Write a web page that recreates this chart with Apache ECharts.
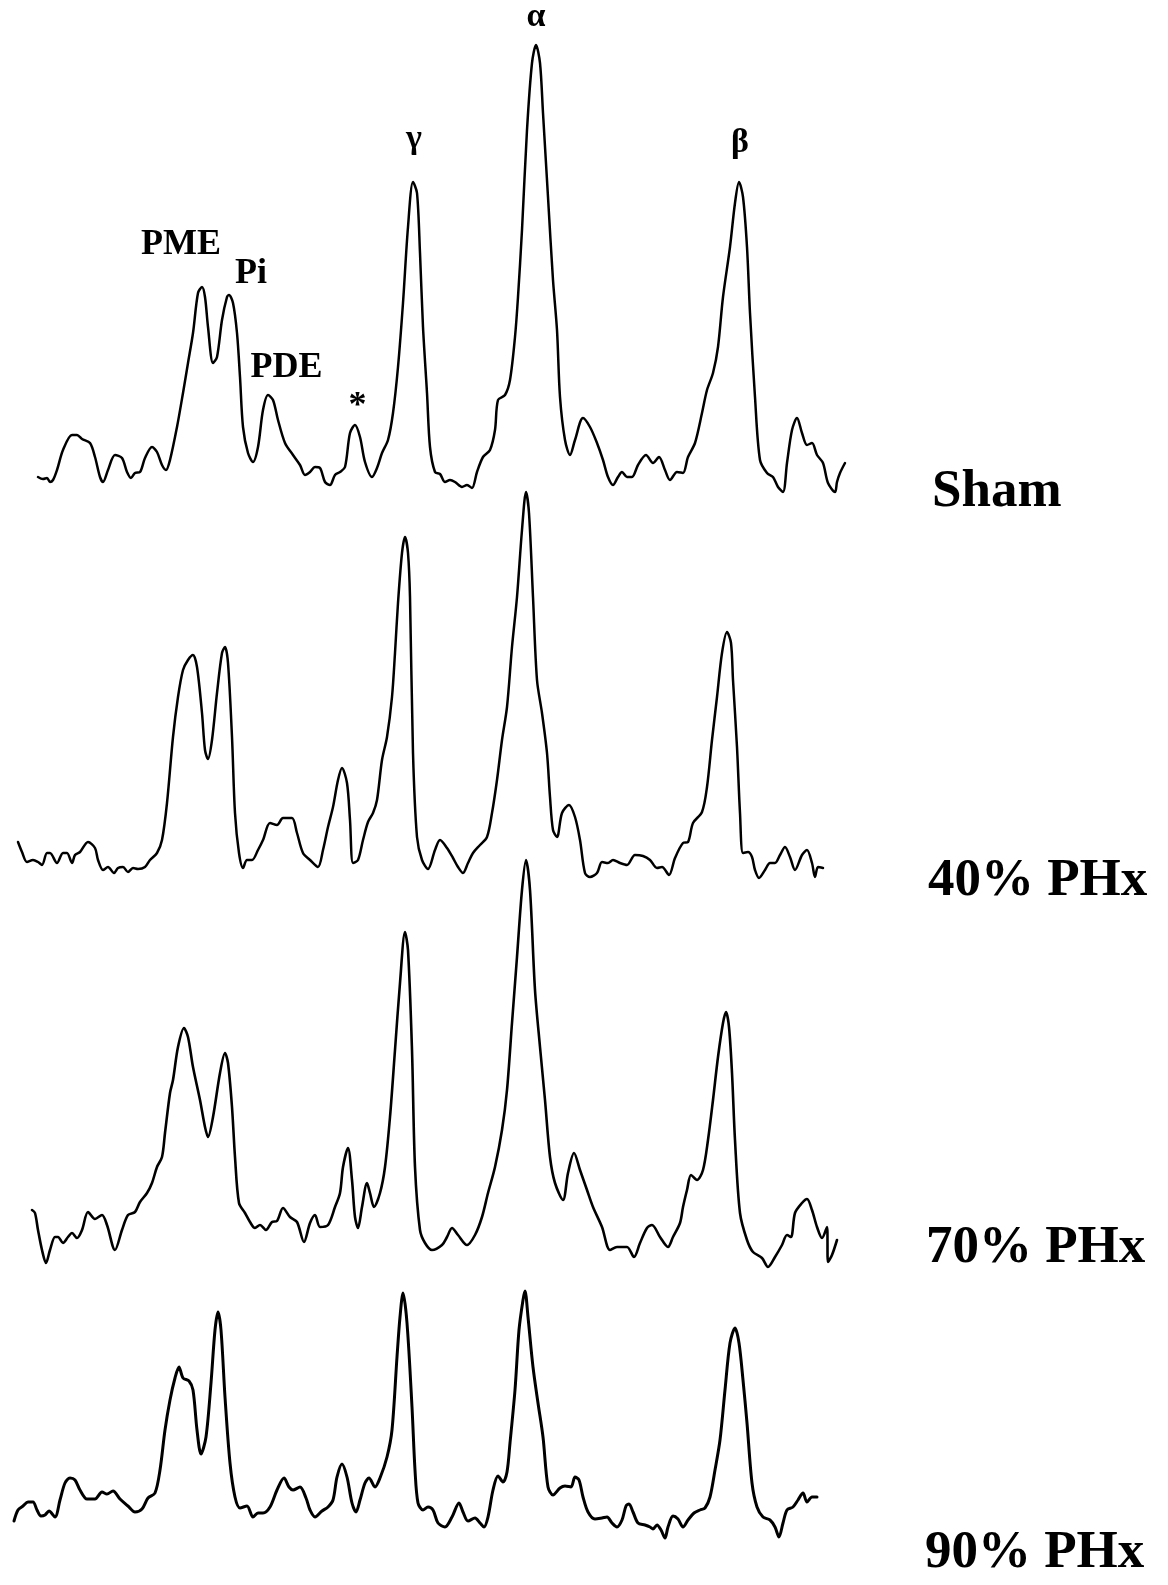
<!DOCTYPE html>
<html>
<head>
<meta charset="utf-8">
<title>31P MR spectra after partial hepatectomy</title>
<script src="https://cdn.jsdelivr.net/npm/echarts@6/dist/echarts.min.js"></script>
<style>
  html, body { margin: 0; padding: 0; background: #fff; }
  #chart { width: 1168px; height: 1585px; }
</style>
</head>
<body>
<div id="chart"></div>
<script>
// Chemical shift (ppm) and signal intensity (a.u.) for each group.
const sham = [
  [12.68,18],[12.48,16],[12.32,17],[12.20,13],[12.08,15],[11.92,25],[11.68,45],[11.32,60],[11.12,60],[10.92,56],
  [10.60,52],[10.40,38],[10.20,18],[10.08,13],[9.88,25],[9.60,40],[9.32,37],[9.12,23],[8.96,17],[8.80,22],
  [8.60,23],[8.40,37],[8.12,48],[7.92,43],[7.72,30],[7.56,25],[7.40,35],[7.12,68],[6.88,102],[6.68,132],
  [6.48,162],[6.28,202],[6.12,208],[6.00,198],[5.88,168],[5.68,132],[5.52,138],[5.32,175],[5.12,198],[5.04,200],
  [4.88,192],[4.72,162],[4.60,118],[4.48,68],[4.28,42],[4.08,33],[3.88,48],[3.68,85],[3.48,100],[3.28,95],
  [3.08,75],[2.80,52],[2.48,40],[2.20,30],[2.00,20],[1.80,23],[1.60,28],[1.40,27],[1.20,13],[1.00,10],
  [0.80,20],[0.60,23],[0.40,28],[0.20,62],[0.00,70],[-0.20,58],[-0.40,33],[-0.68,18],[-0.88,27],[-1.08,42],
  [-1.32,55],[-1.52,82],[-1.72,128],[-1.92,192],[-2.12,268],[-2.32,313],[-2.48,302],[-2.60,242],[-2.72,168],[-2.88,102],
  [-3.00,48],[-3.20,23],[-3.40,21],[-3.60,13],[-3.80,15],[-4.00,13],[-4.28,8],[-4.48,10],[-4.68,7],[-4.88,23],
  [-5.12,38],[-5.40,45],[-5.60,65],[-5.72,95],[-6.00,100],[-6.20,115],[-6.40,158],[-6.52,198],[-6.68,265],[-6.88,365],
  [-7.08,432],[-7.24,450],[-7.40,432],[-7.52,382],[-7.72,298],[-7.92,215],[-8.08,165],[-8.20,98],[-8.40,55],[-8.60,40],
  [-8.80,55],[-9.12,77],[-9.40,68],[-9.68,52],[-9.92,35],[-10.12,18],[-10.32,10],[-10.52,18],[-10.68,23],[-10.88,18],
  [-11.08,18],[-11.32,30],[-11.64,40],[-11.92,32],[-12.16,38],[-12.40,25],[-12.60,15],[-12.88,23],[-13.12,22],[-13.32,38],
  [-13.60,52],[-13.88,82],[-14.08,105],[-14.32,122],[-14.52,148],[-14.72,198],[-15.00,248],[-15.20,292],[-15.36,313],[-15.52,298],
  [-15.68,248],[-15.80,182],[-16.00,98],[-16.20,35],[-16.48,22],[-16.72,18],[-16.92,8],[-17.12,3],[-17.28,32],[-17.48,65],
  [-17.68,77],[-17.88,62],[-18.08,50],[-18.28,52],[-18.48,40],[-18.72,32],[-18.92,12],[-19.20,3],[-19.28,13],[-19.40,22],
  [-19.60,32]
];

const phx40 = [
  [13.48,38],[13.32,28],[13.12,18],[12.88,20],[12.68,18],[12.52,15],[12.32,27],[12.20,27],[11.92,17],[11.68,27],
  [11.52,27],[11.32,17],[11.20,25],[11.00,28],[10.68,38],[10.40,32],[10.28,20],[10.08,10],[9.88,13],[9.64,7],
  [9.48,12],[9.28,13],[9.08,8],[8.88,12],[8.68,11],[8.40,13],[8.20,20],[7.92,27],[7.72,40],[7.52,77],
  [7.28,143],[7.08,183],[6.88,210],[6.68,220],[6.48,225],[6.32,213],[6.12,167],[6.00,130],[5.88,121],[5.72,140],
  [5.52,187],[5.32,227],[5.20,233],[5.08,217],[4.92,143],[4.80,67],[4.64,27],[4.48,12],[4.32,20],[4.12,20],
  [3.88,30],[3.68,40],[3.40,57],[3.12,55],[2.88,62],[2.52,62],[2.32,47],[2.08,27],[1.80,20],[1.48,13],
  [1.28,30],[1.08,53],[0.88,73],[0.68,100],[0.52,112],[0.32,97],[0.20,60],[0.08,17],[-0.12,20],[-0.32,40],
  [-0.52,58],[-0.72,67],[-0.88,80],[-1.08,120],[-1.28,143],[-1.48,183],[-1.60,227],[-1.72,277],[-1.88,327],[-2.00,343],
  [-2.12,327],[-2.20,283],[-2.32,127],[-2.48,43],[-2.68,20],[-2.92,11],[-3.20,30],[-3.40,40],[-3.68,32],[-3.92,22],
  [-4.12,13],[-4.32,7],[-4.52,17],[-4.72,27],[-5.00,35],[-5.28,43],[-5.48,67],[-5.68,100],[-5.88,140],[-6.08,173],
  [-6.28,233],[-6.48,283],[-6.68,350],[-6.84,388],[-6.96,367],[-7.12,283],[-7.28,200],[-7.48,167],[-7.68,127],[-7.80,83],
  [-7.92,50],[-8.08,43],[-8.28,67],[-8.56,75],[-8.80,63],[-9.00,40],[-9.20,7],[-9.40,3],[-9.68,7],[-9.88,18],
  [-10.12,17],[-10.32,20],[-10.60,17],[-10.88,15],[-11.20,25],[-11.52,24],[-11.80,20],[-12.08,12],[-12.28,13],[-12.56,5],
  [-12.80,22],[-13.12,37],[-13.32,38],[-13.52,57],[-13.88,68],[-14.08,93],[-14.28,140],[-14.48,183],[-14.68,227],[-14.88,248],
  [-15.04,237],[-15.12,200],[-15.28,133],[-15.40,67],[-15.52,27],[-15.72,28],[-15.88,23],[-16.00,10],[-16.16,2],[-16.40,10],
  [-16.60,17],[-16.80,17],[-17.00,25],[-17.20,33],[-17.40,23],[-17.60,10],[-17.88,25],[-18.08,30],[-18.28,17],[-18.40,3],
  [-18.52,13],[-18.72,12]
];

const phx70 = [
  [12.92,60],[12.80,57],[12.68,40],[12.52,20],[12.36,7],[12.20,20],[12.00,33],[11.88,33],[11.68,27],[11.48,33],
  [11.32,37],[11.12,32],[10.92,40],[10.68,58],[10.40,51],[10.12,55],[9.92,45],[9.60,20],[9.32,40],[9.08,55],
  [8.80,58],[8.60,68],[8.32,77],[8.12,87],[7.92,103],[7.72,113],[7.60,137],[7.40,177],[7.28,190],[7.08,223],
  [6.84,242],[6.68,233],[6.48,203],[6.20,170],[6.00,143],[5.88,133],[5.68,153],[5.40,197],[5.20,217],[5.08,207],
  [4.92,163],[4.80,113],[4.64,67],[4.40,57],[4.20,48],[4.00,42],[3.80,45],[3.56,40],[3.32,48],[3.12,49],
  [2.88,62],[2.60,53],[2.32,48],[2.04,28],[1.80,47],[1.60,55],[1.40,43],[1.08,45],[0.80,63],[0.60,77],
  [0.48,103],[0.28,122],[0.12,90],[0.00,53],[-0.12,42],[-0.28,63],[-0.48,87],[-0.60,77],[-0.76,63],[-1.00,77],
  [-1.20,103],[-1.40,153],[-1.60,220],[-1.80,287],[-2.00,338],[-2.12,320],[-2.28,220],[-2.40,103],[-2.60,40],[-2.80,27],
  [-3.08,20],[-3.48,25],[-3.68,33],[-3.88,42],[-4.12,35],[-4.48,25],[-4.80,35],[-5.08,53],[-5.32,77],[-5.60,103],
  [-5.88,140],[-6.08,180],[-6.28,247],[-6.48,313],[-6.68,380],[-6.84,410],[-7.00,380],[-7.20,280],[-7.40,223],[-7.60,170],
  [-7.80,113],[-8.00,87],[-8.32,70],[-8.52,97],[-8.76,117],[-9.00,100],[-9.28,80],[-9.52,63],[-9.88,43],[-10.20,20],
  [-10.48,23],[-10.88,23],[-11.16,13],[-11.40,27],[-11.68,42],[-11.88,45],[-12.20,33],[-12.52,23],[-12.72,33],[-13.00,47],
  [-13.12,63],[-13.28,80],[-13.44,95],[-13.68,90],[-13.92,100],[-14.12,130],[-14.32,170],[-14.52,213],[-14.72,247],[-14.84,258],
  [-14.96,243],[-15.08,197],[-15.20,130],[-15.40,57],[-15.68,30],[-15.92,18],[-16.28,12],[-16.52,3],[-16.80,13],[-17.08,25],
  [-17.28,35],[-17.44,33],[-17.60,57],[-17.88,67],[-18.08,71],[-18.28,60],[-18.48,43],[-18.68,32],[-18.88,43],[-18.92,8],
  [-19.08,15],[-19.28,30]
];

const phx90 = [
  [13.64,24],[13.48,35],[13.28,39],[13.08,43],[12.88,43],[12.72,35],[12.56,29],[12.40,30],[12.24,34],[12.00,28],
  [11.80,45],[11.60,62],[11.40,67],[11.20,65],[11.00,55],[10.72,46],[10.40,46],[10.12,53],[9.92,51],[9.68,54],
  [9.40,46],[9.08,39],[8.80,33],[8.52,36],[8.28,47],[8.00,52],[7.80,75],[7.60,115],[7.40,145],[7.20,167],
  [7.04,178],[6.88,167],[6.64,164],[6.48,155],[6.32,115],[6.16,91],[5.96,108],[5.76,162],[5.60,215],[5.48,233],
  [5.36,215],[5.20,148],[5.00,82],[4.80,48],[4.60,37],[4.32,39],[4.08,28],[3.88,32],[3.68,32],[3.40,38],
  [3.12,55],[2.84,67],[2.64,58],[2.48,55],[2.20,58],[1.96,47],[1.80,35],[1.60,28],[1.32,34],[1.08,38],
  [0.88,45],[0.72,68],[0.52,81],[0.32,68],[0.12,42],[-0.04,33],[-0.20,45],[-0.40,62],[-0.56,67],[-0.80,58],
  [-1.00,67],[-1.28,88],[-1.48,115],[-1.68,188],[-1.80,228],[-1.92,252],[-2.08,222],[-2.28,138],[-2.40,75],[-2.52,42],
  [-2.72,35],[-2.92,38],[-3.12,35],[-3.32,22],[-3.60,18],[-3.88,28],[-4.16,42],[-4.32,33],[-4.52,24],[-4.80,27],
  [-5.00,22],[-5.16,18],[-5.32,28],[-5.52,55],[-5.72,69],[-5.92,63],[-6.08,73],[-6.20,102],[-6.40,155],[-6.56,215],
  [-6.72,245],[-6.80,254],[-6.92,228],[-7.12,178],[-7.32,142],[-7.52,108],[-7.72,58],[-7.92,50],[-8.20,57],[-8.40,59],
  [-8.64,58],[-8.80,68],[-8.96,65],[-9.12,48],[-9.32,33],[-9.60,26],[-9.88,27],[-10.08,28],[-10.28,22],[-10.48,18],
  [-10.68,25],[-10.84,39],[-10.96,41],[-11.12,33],[-11.32,22],[-11.60,20],[-11.80,18],[-11.92,16],[-12.08,20],[-12.24,15],
  [-12.40,7],[-12.52,18],[-12.72,29],[-12.92,26],[-13.12,18],[-13.32,25],[-13.56,32],[-13.80,35],[-14.00,37],[-14.20,48],
  [-14.40,75],[-14.60,105],[-14.80,155],[-15.00,202],[-15.20,217],[-15.36,202],[-15.52,165],[-15.68,122],[-15.88,62],[-16.08,38],
  [-16.32,28],[-16.60,25],[-16.80,18],[-16.96,8],[-17.12,22],[-17.28,35],[-17.52,38],[-17.72,45],[-17.92,52],[-18.08,43],
  [-18.28,48],[-18.48,48]
];

const groupNames = ['Sham', '40% PHx', '70% PHx', '90% PHx'];
const groupSpectra = [sham, phx40, phx70, phx90];

// Resonance assignments marked on the sham spectrum: [text, ppm, height]
const peakLabels = [
  ['α', -7.24, 478],
  ['γ', -2.36, 356],
  ['β', -15.40, 352],
  ['PME', 6.96, 250],
  ['Pi', 4.16, 221],
  ['PDE', 2.74, 127],
  ['*', -0.10, 88]
];

// Layout of the stacked panels (pixels) and their intensity ranges
const panelTop = [0, 480, 850, 1285];
const panelRange = [495, 400, 420, 260];
const lineWidths = [2.5, 2.5, 2.6, 3.0];
const nameBoxes = [[932, 492], [928, 881], [926, 1248], [925, 1553]];

const SERIF = '"Liberation Serif", "Times New Roman", serif';

const grids = [], xAxes = [], yAxes = [], series = [];
groupSpectra.forEach((data, i) => {
  grids.push({ left: 5, width: 850, top: panelTop[i], height: panelRange[i] });
  xAxes.push({ gridIndex: i, type: 'value', min: -20, max: 14, inverse: true, show: false });
  yAxes.push({ gridIndex: i, type: 'value', min: 0, max: panelRange[i], show: false });
  series.push({
    name: groupNames[i],
    type: 'line',
    xAxisIndex: i,
    yAxisIndex: i,
    data: data,
    showSymbol: false,
    smooth: 0.3,
    clip: false,
    lineStyle: { color: '#000', width: lineWidths[i], join: 'round', cap: 'round' }
  });
});

series.push({
  type: 'scatter',
  xAxisIndex: 0,
  yAxisIndex: 0,
  symbolSize: 0,
  clip: false,
  itemStyle: { color: '#000', opacity: 1 },
  data: peakLabels.map(([t, ppm, h]) => {
    const greek = /[αβγ]/.test(t);
    return {
      value: [ppm, h],
      label: {
        show: true,
        position: 'inside',
        formatter: t,
        color: '#000',
        opacity: 1,
        textBorderWidth: 0,
        textBorderColor: 'transparent',
        fontFamily: SERIF,
        fontWeight: 'bold',
        fontSize: greek ? 34 : (t === '*' ? 36 : 36)
      }
    };
  })
});

const chart = echarts.init(document.getElementById('chart'), null, { renderer: 'canvas' });
chart.setOption({
  animation: false,
  backgroundColor: '#fff',
  grid: grids,
  xAxis: xAxes,
  yAxis: yAxes,
  series: series,
  graphic: groupNames.map((name, i) => ({
    type: 'text',
    x: nameBoxes[i][0],
    y: nameBoxes[i][1],
    style: {
      text: name,
      fill: '#000',
      font: 'bold 53px ' + SERIF,
      align: 'left',
      verticalAlign: 'middle'
    }
  }))
});
</script>
</body>
</html>
